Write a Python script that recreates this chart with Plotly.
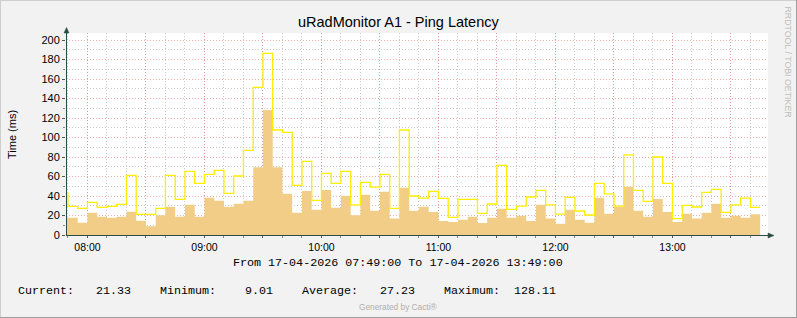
import pandas as pd
import plotly.graph_objects as go

# ---------------- data ----------------
title_text = "uRadMonitor A1 - Ping Latency"
y_title = "Time (ms)"
range_start = "2026-04-17 07:49:00"
range_end = "2026-04-17 13:49:00"
first_sample_end = "2026-04-17 07:50:00"
step_minutes = 5

# average latency (ms) per 5-min sample
avg_ms = [18.0,
          17.8, 12.6, 22.9, 18.8, 17.8, 18.8, 23.9, 14.7, 9.0, 20.2,
          29.1, 18.8, 31.1, 18.8, 38.3, 35.2, 29.1, 32.1, 35.2, 69.4,
          128.1, 69.4, 42.4, 22.9, 45.1, 26.0, 46.2, 28.0, 40.3, 20.2,
          41.4, 25.0, 44.4, 16.8, 48.5, 25.0, 29.1, 23.6, 14.4, 13.3,
          15.7, 18.8, 12.3, 17.8, 27.0, 17.8, 19.8, 14.4, 31.1, 16.8,
          11.6, 25.8, 15.7, 12.6, 38.3, 21.9, 29.1, 49.6, 25.0, 18.8,
          36.9, 23.6, 13.3, 21.9, 16.8, 22.9, 32.1, 17.8, 19.8, 17.8, 21.3]

# maximum latency (ms) per 5-min sample
max_ms = [42.7,
          29.4, 27.4, 33.5, 28.4, 29.4, 31.5, 61.2, 21.2, 21.2, 27.4,
          61.2, 36.6, 65.3, 53.0, 62.2, 66.3, 42.7, 60.5, 86.8, 151.5,
          186.3, 107.7, 105.3, 50.9, 75.6, 35.6, 63.2, 53.0, 65.3, 30.8,
          54.0, 49.2, 62.2, 27.4, 107.7, 40.0, 37.9, 44.8, 37.6, 18.1,
          36.6, 36.6, 22.2, 31.8, 71.5, 26.3, 29.7, 39.0, 45.8, 30.8,
          21.5, 38.6, 24.6, 20.5, 53.0, 42.1, 29.7, 82.1, 45.8, 34.5,
          80.0, 53.0, 16.8, 30.4, 28.7, 43.8, 46.8, 23.2, 30.8, 37.9, 28.4]

hour_labels = ["08:00", "09:00", "10:00", "11:00", "12:00", "13:00"]

period_text = "From 17-04-2026 07:49:00 To 17-04-2026 13:49:00"
legend_labels = ["Current:", "Minimum:", "Average:", "Maximum:"]
legend_values = ["21.33", "9.01", "27.23", "128.11"]
footer_text = "Generated by Cacti®"
side_text = "RRDTOOL / TOBI OETIKER"

# ---------------- layout geometry ----------------
W, H = 797, 318
ML, MR, MT, MB = 66, 29, 33, 83
PW, PH = W - ML - MR, H - MT - MB
Y_MAX = PH / 0.975


def px(x):
    return (x - ML) / PW


def py(y):
    return (H - MB - y) / PH


ends = pd.date_range(first_sample_end, periods=len(avg_ms), freq=f"{step_minutes}min")
starts = ends - pd.Timedelta(minutes=step_minutes)
xs = list(starts) + [ends[-1]]

fig = go.Figure()
fig.add_trace(go.Scatter(
    x=xs, y=avg_ms + [avg_ms[-1]], mode="lines", line_shape="hv",
    line=dict(width=0, color="#F2CD88"), fill="tozeroy", fillcolor="#F2CD88",
    hoverinfo="skip", showlegend=False))
fig.add_trace(go.Scatter(
    x=xs, y=max_ms + [max_ms[-1]], mode="lines", line_shape="hv",
    line=dict(width=1.3, color="#FFEE00"),
    hoverinfo="skip", showlegend=False))

red_grid = "rgba(225,120,120,0.6)"
gray_grid = "rgba(190,190,190,0.8)"
dash = "1px,2px"

half_hours = pd.date_range("2026-04-17 08:00", "2026-04-17 13:30", freq="30min")
tickvals = list(half_hours)
ticktext = []
for t in half_hours:
    s = t.strftime("%H:%M")
    ticktext.append(s if s in hour_labels else "")

fig.update_layout(
    width=W, height=H,
    margin=dict(l=ML, r=MR, t=MT, b=MB),
    paper_bgcolor="#F2F2F2", plot_bgcolor="#FFFFFF",
    font=dict(family="Liberation Sans, Arial, sans-serif", size=11, color="#000000"),
    xaxis=dict(
        type="date", range=[range_start, range_end],
        tickmode="array", tickvals=tickvals, ticktext=ticktext,
        showgrid=True, gridcolor=red_grid, griddash=dash, gridwidth=1,
        ticks="outside", ticklen=2, tickcolor="#555555",
        tickfont=dict(size=10.5), showline=False, zeroline=False,
        minor=dict(dtick=600000, tick0="2026-04-17 08:00", showgrid=True,
                   gridcolor=gray_grid, griddash=dash, gridwidth=1,
                   ticks="outside", ticklen=2, tickcolor="#888888"),
        fixedrange=True,
    ),
    yaxis=dict(
        range=[0, Y_MAX], tickmode="linear", tick0=0, dtick=20,
        showgrid=True, gridcolor=red_grid, griddash=dash, gridwidth=1,
        ticks="outside", ticklen=3, tickcolor="#555555",
        tickfont=dict(size=11), showline=False, zeroline=False,
        minor=dict(dtick=10, showgrid=True, gridcolor=gray_grid,
                   griddash=dash, gridwidth=1, ticks="outside", ticklen=2,
                   tickcolor="#888888"),
        fixedrange=True,
    ),
)

axis_col = "#2C4D43"
shapes = [
    dict(type="line", xref="paper", yref="paper", x0=px(66.5), x1=px(66.5),
         y0=py(235.5), y1=py(31), line=dict(color=axis_col, width=1)),
    dict(type="path", xref="paper", yref="paper",
         path=f"M {px(64)} {py(33)} L {px(69)} {py(33)} L {px(66.5)} {py(27.5)} Z",
         fillcolor=axis_col, line=dict(color=axis_col, width=0.5)),
    dict(type="line", xref="paper", yref="paper", x0=px(66), x1=px(770),
         y0=py(235.5), y1=py(235.5), line=dict(color=axis_col, width=1)),
    dict(type="path", xref="paper", yref="paper",
         path=f"M {px(768)} {py(233)} L {px(768)} {py(238)} L {px(774)} {py(235.5)} Z",
         fillcolor=axis_col, line=dict(color=axis_col, width=0.5)),
    dict(type="line", xref="paper", yref="paper", x0=px(0.5), x1=px(0.5),
         y0=py(0), y1=py(H), line=dict(color="#CFCFCF", width=1)),
    dict(type="line", xref="paper", yref="paper", x0=px(0), x1=px(W),
         y0=py(0.5), y1=py(0.5), line=dict(color="#CFCFCF", width=1)),
    dict(type="line", xref="paper", yref="paper", x0=px(W - 0.5), x1=px(W - 0.5),
         y0=py(0), y1=py(H), line=dict(color="#9E9E9E", width=1)),
    dict(type="line", xref="paper", yref="paper", x0=px(0), x1=px(W),
         y0=py(H - 0.5), y1=py(H - 0.5), line=dict(color="#9E9E9E", width=1)),
]
fig.update_layout(shapes=shapes)

mono = "Liberation Mono, Courier New, monospace"
ann = [
    dict(text=title_text, x=px(398), y=py(22.5), font=dict(size=14.5, color="#000000")),
    dict(text=y_title, x=px(11.5), y=py(134.5), textangle=-90, font=dict(size=11)),
    dict(text=period_text, x=px(398), y=py(263), font=dict(family=mono, size=11.7)),
    dict(text=footer_text, x=px(398), y=py(307), font=dict(size=8.3, color="#AFAFAF")),
    dict(text=side_text, x=px(787.5), y=py(62), textangle=90, font=dict(size=8.8, color="#BDBDBD")),
]
leg_x = [16, 158, 300, 442]
val_x = [94, 243, 378, 512]
for lab, lx in zip(legend_labels, leg_x):
    ann.append(dict(text=lab, x=px(lx), y=py(291), xanchor="left", font=dict(family=mono, size=11.7)))
for v, vx in zip(legend_values, val_x):
    ann.append(dict(text=v, x=px(vx), y=py(291), xanchor="left", font=dict(family=mono, size=11.7)))

for a in ann:
    a.setdefault("xanchor", "center")
    a.update(xref="paper", yref="paper", yanchor="middle", showarrow=False)
fig.update_layout(annotations=ann)

fig.write_html("out.html")
